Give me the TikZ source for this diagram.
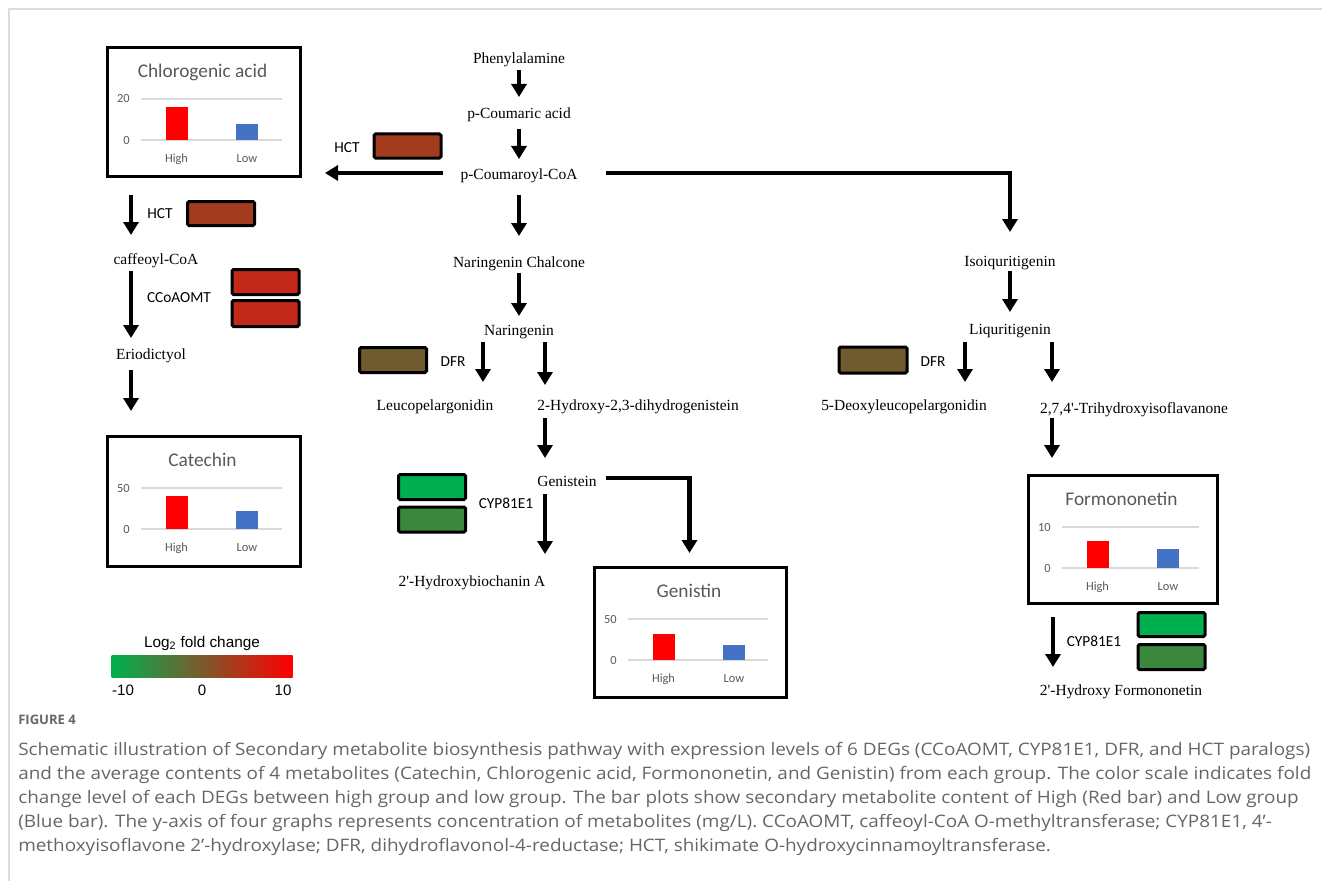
\documentclass[tikz,border=0pt]{standalone}
\usepackage{fontspec}
\setmainfont{Liberation Serif}
\newfontfamily\calib{Carlito}
\newfontfamily\arialf{Liberation Sans}
\newfontfamily\capf[FakeStretch=1.1]{Open Sans}
\newfontfamily\figf{Open Sans}
\usetikzlibrary{arrows.meta,calc}
\definecolor{hctc}{HTML}{A33B1E}
\definecolor{ccc}{HTML}{C3291A}
\definecolor{dfrc}{HTML}{6E5C2E}
\definecolor{cypg}{HTML}{00B050}
\definecolor{cypd}{HTML}{3A873D}
\definecolor{barblue}{HTML}{4472C4}
\definecolor{gridc}{HTML}{D9D9D9}
\definecolor{txtg}{HTML}{595959}
\definecolor{capc}{HTML}{666666}
\definecolor{framec}{HTML}{DDDDDD}
\definecolor{midc}{HTML}{7B5A2C}
\tikzset{
  arr/.style={line width=3.4pt, line join=miter, -{Triangle[width=11.25pt,length=9.75pt]}},
  met/.style={font=\fontsize{11.6}{13}\selectfont, inner sep=0pt, text height=7.9pt, text depth=0pt},
  enz/.style={font=\calib\fontsize{11.5}{13}\selectfont, inner sep=0pt, text height=7.5pt, text depth=0pt},
  genebox/.style={draw, line width=2.25pt, rounded corners=1.1pt, minimum width=50.25pt, minimum height=18.75pt, inner sep=0pt},
  chartframe/.style={draw, line width=2.25pt, fill=white, inner sep=0pt},
  ctitle/.style={font=\calib\fontsize{14.5}{16}\selectfont, text=txtg, inner sep=0pt, text height=9.4pt, text depth=0pt},
  ctick/.style={font=\calib\fontsize{9.3}{11}\selectfont, text=txtg, inner sep=0pt, text height=6pt, text depth=0pt},
  gridl/.style={draw=gridc, line width=0.9pt},
  capline/.style={font=\capf\fontsize{12.9}{15}\selectfont, text=capc, inner sep=0pt, anchor=base west},
  scalelab/.style={font=\arialf\fontsize{11.3}{13}\selectfont, inner sep=0pt, text height=6pt, text depth=0pt}
}
\newcommand{\mychart}[9]{%
  \node[chartframe, anchor=north west, minimum width=#4*0.75pt, minimum height=#5*0.75pt] (#1) at (#2,#3) {};
  \begin{scope}[shift={(#2,#3)}]
    \node[ctitle] (#1t) at ({#4/2},25) {#6};
    \draw[gridl] (35,53) -- ({#4-17},53);
    \draw[gridl] (35,94) -- ({#4-17},94);
    \node[ctick, anchor=east] (#1ya) at (24,53) {#7};
    \node[ctick, anchor=east] (#1yb) at (24,94) {0};
    \fill[red] (59.5,94) rectangle (81.5,{94-#8});
    \fill[barblue] (129.5,94) rectangle (152,{94-#9});
    \node[ctick] (#1h) at (70.5,112) {High};
    \node[ctick] (#1l) at (141,112) {Low};
  \end{scope}}
\begin{document}
\begin{tikzpicture}[x=0.75pt,y=-0.75pt]
\useasboundingbox (0,0) rectangle (1322,881);
% page frame
\draw[framec, line width=1.5pt] (9,881) -- (9,9) -- (1322,9);

% metabolite labels
\node[met] (phe) at (519,58) {Phenylalamine};
\node[met] (pca) at (519,113) {p-Coumaric acid};
\node[met] (pcoa) at (519,174) {p-Coumaroyl-CoA};
\node[met] (nch) at (519,262) {Naringenin Chalcone};
\node[met] (nar) at (519,330) {Naringenin};
\node[met] (leu) at (435,405) {Leucopelargonidin};
\node[met] (hdg) at (638,405) {2-Hydroxy-2,3-dihydrogenistein};
\node[met] (gen) at (567,481) {Genistein};
\node[met] (hba) at (472,581) {2\textquotesingle-Hydroxybiochanin A};
\node[met] (iso) at (1010,261) {Isoiquritigenin};
\node[met] (liq) at (1010,329) {Liquritigenin};
\node[met] (dleu) at (904,405) {5-Deoxyleucopelargonidin};
\node[met] (thi) at (1134,408) {2,7,4\textquotesingle-Trihydroxyisoflavanone};
\node[met] (hfo) at (1121,690) {2\textquotesingle-Hydroxy Formononetin};
\node[met] (caf) at (156,259) {caffeoyl-CoA};
\node[met] (eri) at (151,354) {Eriodictyol};

% charts
\mychart{chl}{106}{46}{193}{129}{Chlorogenic acid}{20}{33.3}{16.3}
\mychart{cat}{106}{435}{193}{130}{Catechin}{50}{32.7}{18.3}
\mychart{gnb}{593}{566}{192}{130}{Genistin}{50}{26.4}{15.4}
\mychart{frm}{1027}{474}{189}{128}{Formononetin}{10}{27}{19}

% enzyme boxes
\node[genebox, fill=hctc, minimum height=18pt] (hcta) at (407.5,146) {};
\node[genebox, fill=hctc, minimum height=18pt] (hctb) at (221,213.5) {};
\node[genebox, fill=ccc] (cca) at (265.5,282) {};
\node[genebox, fill=ccc, minimum height=19.5pt] (ccb) at (265.5,313.5) {};
\node[genebox, fill=dfrc] (dfra) at (393,360) {};
\node[genebox, fill=cypg] (cypa) at (432,487) {};
\node[genebox, fill=cypd] (cypb) at (432,519.5) {};
\node[genebox, fill=dfrc, minimum width=51pt, minimum height=19.5pt] (dfrb) at (873,360) {};
\node[genebox, fill=cypg, minimum height=18pt] (cypc) at (1171.5,624.5) {};
\node[genebox, fill=cypd] (cypd2) at (1171.5,657) {};

% enzyme labels
\node[enz] (lhcta) at (347,147) {HCT};
\node[enz] (lhctb) at (160,214) {HCT};
\node[enz] (lcc) at (179,297) {CCoAOMT};
\node[enz] (ldfra) at (453,361) {DFR};
\node[enz] (lcypa) at (506,503) {CYP81E1};
\node[enz] (ldfrb) at (933,361) {DFR};
\node[enz] (lcypb) at (1094,641) {CYP81E1};

% arrows
\draw[arr] ($(phe)+(0,12)$) -- ++(0,27);
\draw[arr] ($(pca)+(0,16)$) -- ++(0,30);
\draw[arr] ($(pcoa)+(0,21)$) -- ++(0,41);
\draw[arr] ($(nch)+(0,11)$) -- ++(0,43);
\draw[arr] ($(nar)+(-36,12)$) -- ++(0,40);
\draw[arr] ($(nar)+(26,12)$) -- ++(0,43);
\draw[arr] ($(hdg)+(-93,13)$) -- ++(0,40);
\draw[arr] ($(gen)+(-22,13)$) -- ++(0,60);
\draw[arr] ($(gen)+(39,-3)$) -| ($(gnb.north)+(-1,-13)$);
\draw[arr] ($(pcoa)+(-76,-1)$) -- ($(pcoa)+(-194,-1)$);
\draw[arr] ($(pcoa)+(87,-1)$) -| ($(iso)+(0,-29)$);
\draw[arr] ($(iso)+(0,10)$) -- ++(0,41);
\draw[arr] ($(liq)+(-45,13)$) -- ++(0,40);
\draw[arr] ($(liq)+(42,13)$) -- ++(0,40);
\draw[arr] ($(thi)+(-82,10)$) -- ++(0,40);
\draw[arr] ($(hfo)+(-68,-73)$) -- ++(0,50);
\draw[arr] ($(caf)+(-25,-64)$) -- ++(0,40);
\draw[arr] ($(caf)+(-25,12)$) -- ++(0,67);
\draw[arr] ($(eri)+(-20,16)$) -- ++(0,41);

% colour scale
\node[scalelab, font=\arialf\fontsize{11.5}{13}\selectfont] (sct) at (202,643) {Log\textsubscript{2} fold change};
\node[minimum width=135.75pt, minimum height=16.5pt, inner sep=0pt, left color=cypg, right color=red, middle color=midc] (scb) at (202,666) {};
\node[scalelab] (sc1) at (123,691) {-10};
\node[scalelab] (sc2) at (202,691) {0};
\node[scalelab] (sc3) at (283,691) {10};

% caption
\node[capline, font=\figf\bfseries\fontsize{9.8}{11}\selectfont] (fig) at (18,724) {FIGURE 4};
\node[capline] (c1) at (18,755) {Schematic illustration of Secondary metabolite biosynthesis pathway with expression levels of 6 DEGs (CCoAOMT, CYP81E1, DFR, and HCT paralogs)};
\node[capline] (c2) at (18,779) {and the average contents of 4 metabolites (Catechin, Chlorogenic acid, Formononetin, and Genistin) from each group. The color scale indicates fold};
\node[capline] (c3) at (18,803) {change level of each DEGs between high group and low group. The bar plots show secondary metabolite content of High (Red bar) and Low group};
\node[capline] (c4) at (18,827) {(Blue bar). The y-axis of four graphs represents concentration of metabolites (mg/L). CCoAOMT, caffeoyl-CoA O-methyltransferase; CYP81E1, 4’-};
\node[capline] (c5) at (18,851) {methoxyisoflavone 2’-hydroxylase; DFR, dihydroflavonol-4-reductase; HCT, shikimate O-hydroxycinnamoyltransferase.};
\end{tikzpicture}
\end{document}
